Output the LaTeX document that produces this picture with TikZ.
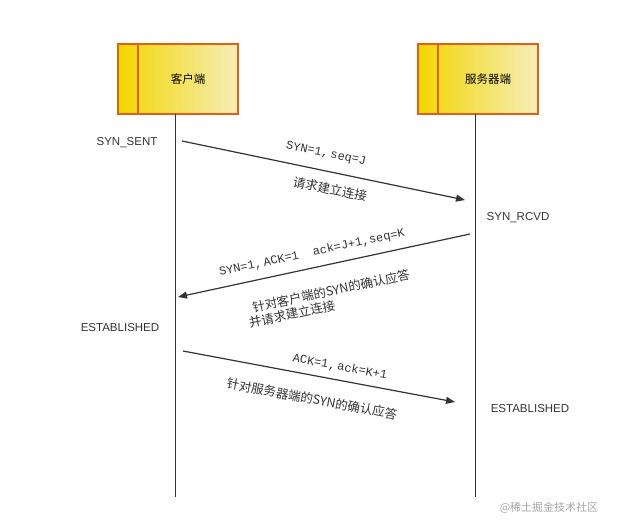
\documentclass[tikz,border=0pt]{standalone}
\usepackage{fontspec}
\setmainfont{Liberation Sans}
\newfontfamily\cjk{Noto Sans CJK SC}
\newfontfamily\mono{Liberation Mono}
\usetikzlibrary{arrows.meta}
\definecolor{gold}{HTML}{F2D600}
\definecolor{pale}{HTML}{F6EEB8}
\definecolor{bord}{HTML}{E0601A}
\definecolor{ln}{HTML}{333333}
\tikzset{
 party/.style={draw=bord,line width=1.2pt,minimum width=120pt,minimum height=70pt,left color=gold,right color=pale,font=\cjk\fontsize{11.5}{13}\selectfont,inner sep=0pt},
 life/.style={line width=1pt,ln},
 msg/.style={line width=1.2pt,ln,-{Triangle[length=9pt,width=7pt]}},
 lbl/.style={font=\mono\fontsize{12}{13}\selectfont,text=ln,inner sep=0pt},
 clbl/.style={font=\cjk\fontsize{12.5}{14}\selectfont,text=ln,inner sep=0pt},
 st/.style={font=\fontsize{11.5}{13}\selectfont,text=ln,inner sep=0pt},
}
\begin{document}
\begin{tikzpicture}[x=1pt,y=-1pt]
\useasboundingbox (0,0) rectangle (621,530);
\node[party] (c) at (178,79) {\hspace*{20pt}客户端};
\draw[bord,line width=1.2pt] (138,44) -- (138,114);
\node[party] (s) at (478,79) {\hspace*{20pt}服务器端};
\draw[bord,line width=1.2pt] (438,44) -- (438,114);
\coordinate (ce) at (175,497);
\coordinate (se) at (475,497);
\draw[life] (175,114) -- (ce);
\draw[life] (475,114) -- (se);
\coordinate (a1) at (182,141); \coordinate (b1) at (465,200);
\coordinate (a2) at (470,234); \coordinate (b2) at (178,297);
\coordinate (a3) at (183,351); \coordinate (b3) at (455,402);
\draw[msg] (a1) -- (b1);
\draw[msg] (a2) -- (b2);
\draw[msg] (a3) -- (b3);
\node[lbl,rotate=-11.5] (l1) at (326,154) {SYN=1,\,seq=J};
\node[clbl,rotate=-11.5] (l2) at (330,189) {请求建立连接};
\node[lbl,rotate=12] (l3) at (312,253) {SYN=1,\,ACK=1\ \ ack=J+1,seq=K};
\node[clbl,rotate=12] (l4) at (331,291) {针对客户端的SYN的确认应答};
\node[clbl,rotate=12] (l5) at (292,314) {并请求建立连接};
\node[lbl,rotate=-10.5] (l6) at (340,367) {ACK=1,\,ack=K+1};
\node[clbl,rotate=-10.5] (l7) at (312,399) {针对服务器端的SYN的确认应答};
\node[st] (s1) at (127,143) {SYN\_SENT};
\node[st] (s2) at (518,218) {SYN\_RCVD};
\node[st] (s3) at (120,328) {ESTABLISHED};
\node[st] (s4) at (530,409) {ESTABLISHED};
\node[font=\cjk\fontsize{11}{12}\selectfont,text=gray!70,inner sep=0pt] (w) at (549,508) {@稀土掘金技术社区};
\end{tikzpicture}
\end{document}
